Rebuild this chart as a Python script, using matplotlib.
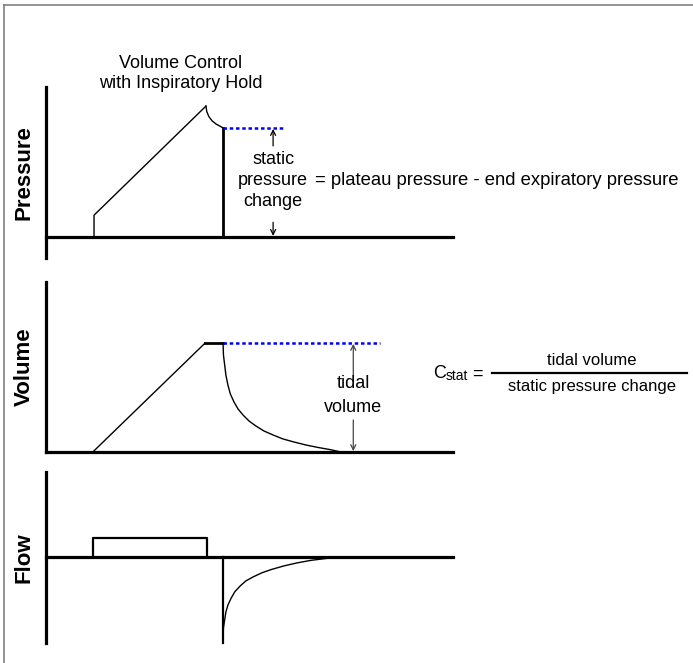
import matplotlib
matplotlib.use("Agg")
import matplotlib.pyplot as plt
from matplotlib.lines import Line2D

plt.rcParams["font.family"] = ["Liberation Sans", "DejaVu Sans"]

W, H = 693, 663

# time base (arbitrary units), shared by all three panels
T_MAX = 10.0
INSP_START = 1.15
INSP_END = 3.95
HOLD_END = 4.35

# pressure (cmH2O)
P_STEP = 4.0
P_PEAK = 24.0
P_PLAT = 20.0
p_hold_t = [3.93, 3.95, 4.00, 4.08, 4.18, 4.28, 4.35]
p_hold_v = [24.0, 23.0, 22.1, 21.3, 20.7, 20.3, 20.0]
P_LIM = (-3.85, 27.5)

# volume (mL)
V_TIDAL = 500
v_exp_t = [4.35, 4.36, 4.39, 4.42, 4.47, 4.53, 4.62, 4.72, 4.84, 4.99,
           5.16, 5.36, 5.58, 5.82, 6.09, 6.39, 6.68, 6.98, 7.25]
v_exp_v = [500, 445, 399, 353, 307, 266, 229, 197, 170, 142,
           119, 96, 78, 60, 46, 32, 21, 11, 0]
V_LIM = (0, 780)

# flow (L/min)
F_INSP = 30
f_exp_t = [4.35, 4.36, 4.39, 4.42, 4.47, 4.55, 4.64, 4.77, 4.91,
           5.09, 5.31, 5.55, 5.85, 6.17, 6.51, 6.86, 7.25]
f_exp_v = [-125, -112, -99.5, -87, -76, -65, -55, -46, -38,
           -31.6, -25, -19.7, -14.2, -9.5, -5.5, -2.7, 0]
F_LIM = (-136, 134)


def px_box(left, top, right, bottom):
    return [left / W, 1 - bottom / H, (right - left) / W, (bottom - top) / H]


def setup(ax, ylim, label):
    ax.set_xlim(0, T_MAX)
    ax.set_ylim(*ylim)
    for s in ("top", "right", "bottom"):
        ax.spines[s].set_visible(False)
    ax.spines["left"].set_linewidth(2.3)
    ax.set_xticks([])
    ax.set_yticks([])
    ax.axhline(0, color="black", lw=2.3, clip_on=False, zorder=3)
    ax.set_ylabel(label, fontsize=16, fontweight="bold", labelpad=8)
    ax.patch.set_alpha(0)


def arrow(ax, tail, tip, color="black"):
    ax.annotate("", xy=tip, xytext=tail,
                arrowprops=dict(arrowstyle="->", lw=0.9, color=color,
                                shrinkA=0, shrinkB=0, mutation_scale=9),
                annotation_clip=False)


fig = plt.figure(figsize=(W / 100, H / 100), dpi=100)

# frame (top and left edges only)
fig.add_artist(Line2D([4 / W, 1], [1 - 5 / H, 1 - 5 / H], color="#808080", lw=1.2))
fig.add_artist(Line2D([4 / W, 4 / W], [0, 1 - 5 / H], color="#808080", lw=1.2))

fig.text(181 / W, 1 - 63 / H, "Volume Control", ha="center", va="center", fontsize=13)
fig.text(181 / W, 1 - 83 / H, "with Inspiratory Hold", ha="center", va="center", fontsize=13)

blue_dot = dict(color="#0000ff", lw=1.8, linestyle=(0, (1.4, 1.1)))

# ---- pressure ----
axp = fig.add_axes(px_box(46, 87, 453, 258))
setup(axp, P_LIM, "Pressure")
axp.plot([INSP_START + 0.03, INSP_START + 0.03, p_hold_t[0]], [0, P_STEP, P_PEAK],
         color="black", lw=1.0, clip_on=False)
axp.plot(p_hold_t, p_hold_v, color="black", lw=1.0, clip_on=False)
axp.plot([HOLD_END, HOLD_END], [P_PLAT, 0], color="black", lw=2.0)
axp.plot([HOLD_END, 5.87], [P_PLAT, P_PLAT], **blue_dot)
arrow(axp, (5.58, 16.7), (5.58, P_PLAT - 0.2))
arrow(axp, (5.58, 2.7), (5.58, 0.2))
axp.text(5.58, 14.3, "static", ha="center", va="center", fontsize=13)
axp.text(5.58, 10.4, "pressure", ha="center", va="center", fontsize=13)
axp.text(5.58, 6.5, "change", ha="center", va="center", fontsize=13)
axp.text(6.62, 10.4, "= plateau pressure - end expiratory pressure",
         ha="left", va="center", fontsize=13.3)

# ---- volume ----
axv = fig.add_axes(px_box(46, 282, 453, 452))
setup(axv, V_LIM, "Volume")
axv.plot([INSP_START, 3.91], [0, V_TIDAL], color="black", lw=1.0)
axv.plot([3.91, HOLD_END], [V_TIDAL, V_TIDAL], color="black", lw=2.0)
axv.plot(v_exp_t, v_exp_v, color="black", lw=1.0)
axv.plot([HOLD_END, 8.21], [V_TIDAL, V_TIDAL], **blue_dot)
arrow(axv, (7.55, 353), (7.55, V_TIDAL - 4), color="#444444")
arrow(axv, (7.55, 147), (7.55, 4), color="#444444")
axv.text(7.55, 312, "tidal", ha="center", va="center", fontsize=13)
axv.text(7.55, 206, "volume", ha="center", va="center", fontsize=13)

# compliance formula
fig.text(433 / W, 1 - 374 / H, "C", ha="left", va="center", fontsize=13)
fig.text(446 / W, 1 - 375.5 / H, "stat", ha="left", va="center", fontsize=10)
fig.text(472 / W, 1 - 374 / H, "=", ha="left", va="center", fontsize=13)
fig.add_artist(Line2D([492 / W, 687 / W], [1 - 373 / H, 1 - 373 / H], color="black", lw=1.6))
fig.text(592 / W, 1 - 361 / H, "tidal volume", ha="center", va="center", fontsize=12)
fig.text(592 / W, 1 - 386 / H, "static pressure change", ha="center", va="center", fontsize=12)

# ---- flow ----
axf = fig.add_axes(px_box(46, 472, 453, 643))
setup(axf, F_LIM, "Flow")
axf.plot([INSP_START, INSP_START, INSP_END, INSP_END], [0, F_INSP, F_INSP, 0],
         color="black", lw=1.6)
axf.plot([HOLD_END, HOLD_END], [0, F_LIM[0]], color="black", lw=1.6, clip_on=False)
axf.plot(f_exp_t, f_exp_v, color="black", lw=1.0)

fig.savefig("out.png", dpi=100)
